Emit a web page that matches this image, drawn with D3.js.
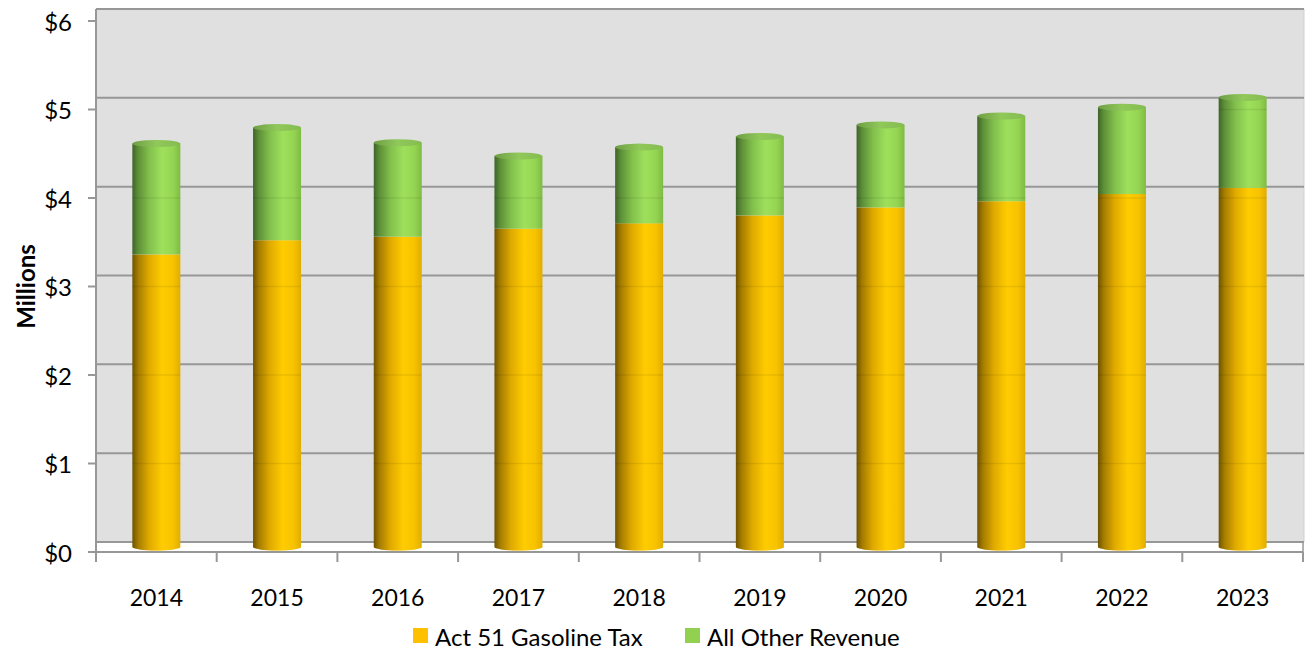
<!DOCTYPE html>
<html>
<head>
<meta charset="utf-8">
<script src="https://cdnjs.cloudflare.com/ajax/libs/d3/7.8.5/d3.min.js"></script>
<style>
  html, body { margin: 0; padding: 0; background: #ffffff; }
  svg { display: block; }
  text { font-family: Lato, "Open Sans", sans-serif; fill: #000; }
</style>
</head>
<body>
<svg id="chart" width="1313" height="650"></svg>
<script>
// Revenue by year, in millions of dollars
const years = ["2014", "2015", "2016", "2017", "2018", "2019", "2020", "2021", "2022", "2023"];
const gasTax = [3.30, 3.46, 3.50, 3.59, 3.65, 3.74, 3.83, 3.90, 3.98, 4.05];
const otherRevenue = [1.25, 1.27, 1.06, 0.82, 0.86, 0.89, 0.93, 0.96, 0.98, 1.02];
const yTicks = [0, 1, 2, 3, 4, 5, 6];
const seriesNames = ["Act 51 Gasoline Tax", "All Other Revenue"];

const svg = d3.select("#chart");
const defs = svg.append("defs");

const left = 96, right = 1304;
// front plane (axis ticks), back wall (gridlines), and middle depth (bars)
const yFront = d3.scaleLinear().domain([0, 6]).range([552, 21]);
const yBack = d3.scaleLinear().domain([0, 6]).range([542, 9]);
const yMid = d3.scaleLinear().domain([0, 6]).range([547, 15]);
const x = d3.scaleBand().domain(years).range([left, 1303]);
const barW = 48;

// cylinder shading gradients
function cylGradient(id, stops) {
  const g = defs.append("linearGradient").attr("id", id)
    .attr("x1", "0%").attr("x2", "100%").attr("y1", "0%").attr("y2", "0%");
  stops.forEach(s => g.append("stop").attr("offset", s[0]).attr("stop-color", s[1]));
}
cylGradient("gOrange", [[0, "#6e5300"], [0.12, "#a47c00"], [0.35, "#e0aa00"], [0.62, "#ffcc00"], [0.85, "#f7c200"], [1, "#e0ad00"]]);
cylGradient("gGreen", [[0, "#3f6428"], [0.12, "#5d8f38"], [0.35, "#82c04c"], [0.62, "#9ee05c"], [0.85, "#94d452"], [1, "#7fbb44"]]);
cylGradient("gGreenTop", [[0, "#6e9e44"], [0.5, "#90c85a"], [1, "#84bc50"]]);

// back wall
svg.append("rect")
  .attr("x", left).attr("y", yBack(6))
  .attr("width", right - left).attr("height", yBack(0) - yBack(6))
  .attr("fill", "#e0e0e0");
svg.append("line")
  .attr("x1", left).attr("x2", right).attr("y1", yBack(6)).attr("y2", yBack(6))
  .attr("stroke", "#cfcfcf").attr("stroke-width", 1);
svg.append("line")
  .attr("x1", right).attr("x2", right).attr("y1", yBack(6)).attr("y2", yBack(0))
  .attr("stroke", "#d0d0d0").attr("stroke-width", 1);

// gridlines on the back wall
svg.append("g").selectAll("line").data(yTicks).join("line")
  .attr("x1", left).attr("x2", right)
  .attr("y1", d => yBack(d)).attr("y2", d => yBack(d))
  .attr("stroke", "#979797").attr("stroke-width", 2);

// left wall edge
svg.append("line")
  .attr("x1", left).attr("x2", left).attr("y1", yBack(6)).attr("y2", yFront(0))
  .attr("stroke", "#979797").attr("stroke-width", 2);

// front floor edge and category ticks
svg.append("line")
  .attr("x1", left - 8).attr("x2", 1303).attr("y1", yFront(0)).attr("y2", yFront(0))
  .attr("stroke", "#979797").attr("stroke-width", 2);
const catEdges = years.map(d => x(d)).concat([x.range()[1]]);
svg.append("g").selectAll("line").data(catEdges).join("line")
  .attr("x1", d => d).attr("x2", d => d)
  .attr("y1", yFront(0)).attr("y2", yFront(0) + 10)
  .attr("stroke", "#979797").attr("stroke-width", 2);
svg.append("line")
  .attr("x1", 1303).attr("x2", 1303).attr("y1", yBack(0)).attr("y2", yFront(0))
  .attr("stroke", "#979797").attr("stroke-width", 1.5);

// value axis ticks and labels (front plane)
const yAxisG = svg.append("g");
yAxisG.selectAll("line").data(yTicks).join("line")
  .attr("x1", left - 8).attr("x2", left)
  .attr("y1", d => yFront(d)).attr("y2", d => yFront(d))
  .attr("stroke", "#979797").attr("stroke-width", 2);
yAxisG.selectAll("text").data(yTicks).join("text")
  .attr("x", 72).attr("y", d => yFront(d))
  .attr("text-anchor", "end").attr("dominant-baseline", "central")
  .style("font-size", "24px")
  .text(d => "$" + d);

// category labels
svg.append("g").selectAll("text").data(years).join("text")
  .attr("x", d => x(d) + x.bandwidth() / 2).attr("y", 597)
  .attr("text-anchor", "middle").attr("dominant-baseline", "central")
  .style("font-size", "23px")
  .text(d => d);

// axis title
svg.append("text")
  .attr("transform", `translate(25, ${yFront(3)}) rotate(-90)`)
  .attr("text-anchor", "middle").attr("dominant-baseline", "central")
  .style("font-size", "24px").style("font-weight", "bold")
  .text("Millions");

// stacked cylinders
const ry = 3.5;
const rx = barW / 2;
const bars = svg.append("g");
years.forEach((yr, i) => {
  const cx = x(yr) + x.bandwidth() / 2;
  const x0 = cx - rx, x1 = cx + rx;
  const y0 = yMid(0);
  const yA = yMid(gasTax[i]);
  const yB = yMid(gasTax[i] + otherRevenue[i]);

  // base ellipse highlight
  bars.append("ellipse")
    .attr("cx", cx).attr("cy", y0).attr("rx", rx).attr("ry", ry)
    .attr("fill", "#f4e2a0");

  // gasoline tax segment with rounded base
  bars.append("path")
    .attr("d", `M${x0},${yA} L${x0},${y0} A${rx},${ry} 0 0 0 ${x1},${y0} L${x1},${yA} Z`)
    .attr("fill", "url(#gOrange)");

  // other revenue segment
  bars.append("rect")
    .attr("x", x0).attr("y", yB).attr("width", barW).attr("height", yA - yB)
    .attr("fill", "url(#gGreen)");

  // top cap
  bars.append("ellipse")
    .attr("cx", cx).attr("cy", yB).attr("rx", rx).attr("ry", ry)
    .attr("fill", "url(#gGreenTop)");

  // faint seams where front-plane gridlines pass the cylinder
  yTicks.filter(t => t > 0 && t < gasTax[i] + otherRevenue[i]).forEach(t => {
    bars.append("line")
      .attr("x1", x0).attr("x2", x1)
      .attr("y1", yFront(t)).attr("y2", yFront(t))
      .attr("stroke", "#000").attr("stroke-opacity", 0.07).attr("stroke-width", 1.5);
  });
});

// legend
const legendColors = ["#ffc000", "#92d050"];
const legendX = [413, 685];
const legend = svg.append("g");
seriesNames.forEach((name, i) => {
  legend.append("rect")
    .attr("x", legendX[i]).attr("y", 628).attr("width", 15).attr("height", 15)
    .attr("fill", legendColors[i]);
  legend.append("text")
    .attr("x", legendX[i] + 22).attr("y", 636)
    .attr("dominant-baseline", "central")
    .style("font-size", "24px")
    .text(name);
});
</script>
</body>
</html>
